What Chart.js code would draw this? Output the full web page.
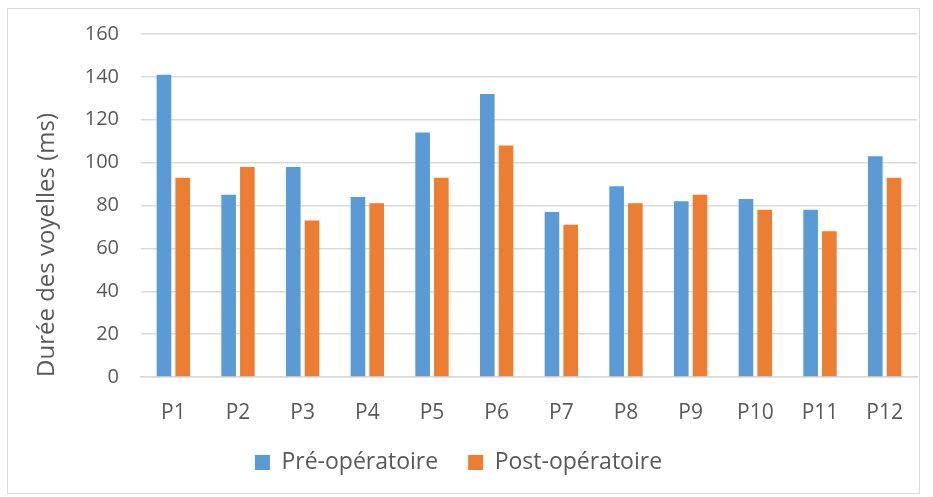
<!DOCTYPE html>
<html>
<head>
<meta charset="utf-8">
<script src="https://cdn.jsdelivr.net/npm/chart.js@4.4.0/dist/chart.umd.min.js"></script>
<style>
  html, body { margin: 0; padding: 0; background: #fff; }
  #wrap { position: relative; width: 933px; height: 497px; }
  #frame { position: absolute; left: 7px; top: 8px; width: 913px; height: 486px; border: 1px solid #d9d9d9; box-sizing: border-box; }
  canvas { position: absolute; left: 0; top: 0; }
</style>
</head>
<body>
<div id="wrap">
  <div id="frame"></div>
  <canvas id="chart" width="933" height="497"></canvas>
</div>
<script>
/* categories and series */
const patients = ['P1','P2','P3','P4','P5','P6','P7','P8','P9','P10','P11','P12'];
const preOp  = [141, 85, 98, 84, 114, 132, 77, 89, 82, 83, 78, 103];
const postOp = [93, 98, 73, 81, 93, 108, 71, 81, 85, 78, 68, 93];
const yTicks = [0, 20, 40, 60, 80, 100, 120, 140, 160];

const FONT = '"Open Sans", sans-serif';
const TXT  = '#595959';

new Chart(document.getElementById('chart').getContext('2d'), {
    type: 'bar',
    data: {
        labels: patients,
        datasets: [
            { label: 'Pré-opératoire',  data: preOp,  backgroundColor: '#5B9BD5' },
            { label: 'Post-opératoire', data: postOp, backgroundColor: '#ED7D31' },
        ]
    },
    options: {
        responsive: false,
        animation: false,
        datasets: { bar: { categoryPercentage: 0.58, barPercentage: 0.78 } },
        layout: { padding: { top: 33, right: 16, bottom: 13, left: 0 } },
        plugins: {
            tooltip: { enabled: false },
            legend: {
                position: 'bottom',
                labels: { color: TXT, font: { family: FONT, size: 23 }, boxWidth: 15, boxHeight: 15, padding: 30 }
            }
        },
        scales: {
            x: {
                grid: { display: false },
                border: { color: '#d9d9d9', width: 1.5 },
                ticks: { color: TXT, font: { family: FONT, size: 21 }, padding: 15 },
                afterFit: s => { s.height = 44; }
            },
            y: {
                min: 0, max: 160,
                afterBuildTicks: s => { s.ticks = yTicks.map(v => ({ value: v })); },
                grid: { color: '#d9d9d9', lineWidth: 1.5, drawTicks: false },
                border: { display: false },
                ticks: { color: TXT, font: { family: FONT, size: 20 }, padding: 22 },
                title: { display: true, text: 'Durée des voyelles (ms)', align: 'start', color: TXT, font: { family: FONT, size: 24 }, padding: { top: 33, bottom: 0 } },
                afterFit: s => { s.width = 141; }
            }
        }
    }
});
</script>
</body>
</html>
